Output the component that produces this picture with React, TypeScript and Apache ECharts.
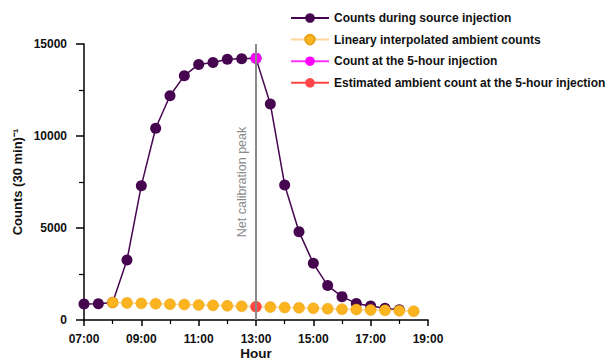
import React, { useEffect, useRef } from "react";
import * as echarts from "echarts";

const hours = [7, 7.5, 8, 8.5, 9, 9.5, 10, 10.5, 11, 11.5, 12, 12.5, 13, 13.5, 14, 14.5, 15, 15.5, 16, 16.5, 17, 17.5, 18];
const sourceCounts = [870, 880, 950, 3260, 7300, 10420, 12190, 13280, 13890, 14000, 14170, 14200, 14220, 11740, 7340, 4800, 3080, 1870, 1270, 900, 760, 640, 560];

const ambientHours = [8, 8.5, 9, 9.5, 10, 10.5, 11, 11.5, 12, 12.5, 13, 13.5, 14, 14.5, 15, 15.5, 16, 16.5, 17, 17.5, 18, 18.5];
const ambientCounts = [950, 930, 905, 885, 860, 840, 815, 795, 770, 750, 725, 705, 680, 660, 635, 615, 590, 570, 545, 525, 500, 480];

const peakHour = [13];
const peakCount = [14220];
const estAmbientHour = [13];
const estAmbientCount = [725];

const seriesNames = [
  "Counts during source injection",
  "Lineary interpolated ambient counts",
  "Count at the 5-hour injection",
  "Estimated ambient count at the 5-hour injection",
];

const xTickHours = [7, 9, 11, 13, 15, 17, 19];

const FONT = "'Liberation Sans', Arial, sans-serif";

const zip = (xs: number[], ys: number[]) => xs.map((x, i) => [x, ys[i]]);

export default function App() {
  const ref = useRef<HTMLDivElement>(null);
  useEffect(() => {
    document.body.style.margin = "0";
    if (!ref.current) return;
    const chart = echarts.init(ref.current, null, { renderer: "svg" });
    chart.setOption({
      animation: false,
      textStyle: { fontFamily: FONT },
      grid: { left: 84, right: 180, top: 44, bottom: 41, containLabel: false, outerBoundsMode: "none" },
      legend: {
        orient: "vertical",
        left: 290,
        top: 12,
        padding: 0,
        itemWidth: 38,
        itemHeight: 12,
        itemGap: 9.6,
        data: seriesNames,
        textStyle: { fontFamily: FONT, fontWeight: "bold", fontSize: 12, color: "#111" },
      },
      xAxis: {
        type: "value",
        min: 7,
        max: 19,
        interval: 2,
        name: "Hour",
        nameLocation: "middle",
        nameGap: 26.5,
        nameMoveOverlap: false,
        nameTextStyle: { fontFamily: FONT, fontWeight: "bold", fontSize: 13.5, color: "#111" },
        axisLine: { show: true, onZero: false, lineStyle: { color: "#000", width: 1.5 } },
        axisTick: { show: true, length: 6, lineStyle: { color: "#000", width: 1.5 } },
        minorTick: { show: true, splitNumber: 2, length: 4, lineStyle: { color: "#000", width: 1.2 } },
        splitLine: { show: false },
        axisLabel: {
          margin: 13,
          fontFamily: FONT,
          fontWeight: "bold",
          fontSize: 12,
          color: "#111",
          customValues: xTickHours,
          formatter: (v: number) => `${String(v).padStart(2, "0")}:00`,
        },
      },
      yAxis: {
        type: "value",
        min: 0,
        max: 15000,
        interval: 5000,
        name: "Counts (30 min)⁻¹",
        nameLocation: "middle",
        nameGap: 60.5,
        nameMoveOverlap: false,
        nameTextStyle: { fontFamily: FONT, fontWeight: "bold", fontSize: 13, color: "#111" },
        axisLine: { show: true, lineStyle: { color: "#000", width: 1.5 } },
        axisTick: { show: true, length: 8, lineStyle: { color: "#000", width: 1.5 } },
        minorTick: { show: true, splitNumber: 2, length: 5, lineStyle: { color: "#000", width: 1.2 } },
        splitLine: { show: false },
        axisLabel: {
          margin: 17,
          fontFamily: FONT,
          fontWeight: "bold",
          fontSize: 12,
          color: "#111",
          formatter: (v: number) => String(v),
        },
      },
      series: [
        {
          name: seriesNames[0],
          type: "line",
          data: zip(hours, sourceCounts),
          symbol: "circle",
          symbolSize: 11,
          itemStyle: { color: "#45054f" },
          lineStyle: { color: "#45054f", width: 1.5 },
          z: 2,
          markLine: {
            silent: true,
            symbol: "none",
            data: [{ xAxis: 13 }],
            lineStyle: { color: "#8a8a8a", width: 2, type: "solid" },
            label: {
              show: true,
              position: "insideMiddleTop",
              formatter: "Net calibration peak",
              color: "#8a8a8a",
              fontFamily: FONT,
              fontSize: 12.5,
              distance: 8,
            },
          },
        },
        {
          name: seriesNames[1],
          type: "line",
          data: zip(ambientHours, ambientCounts),
          symbol: "circle",
          symbolSize: 11,
          itemStyle: { color: "#fbb41f", borderColor: "#e8a218", borderWidth: 0.5 },
          lineStyle: { color: "#fdd596", width: 1.5 },
          z: 3,
        },
        {
          name: seriesNames[2],
          type: "line",
          data: zip(peakHour, peakCount),
          symbol: "circle",
          symbolSize: 11,
          itemStyle: { color: "#ff00ff" },
          lineStyle: { color: "#ff33ff", width: 1.5 },
          z: 4,
        },
        {
          name: seriesNames[3],
          type: "line",
          data: zip(estAmbientHour, estAmbientCount),
          symbol: "circle",
          symbolSize: 11,
          itemStyle: { color: "#ff4545" },
          lineStyle: { color: "#ff4545", width: 1.5 },
          z: 4,
        },
      ],
    });
    return () => chart.dispose();
  }, []);
  return <div ref={ref} style={{ width: 608, height: 361 }} />;
}
